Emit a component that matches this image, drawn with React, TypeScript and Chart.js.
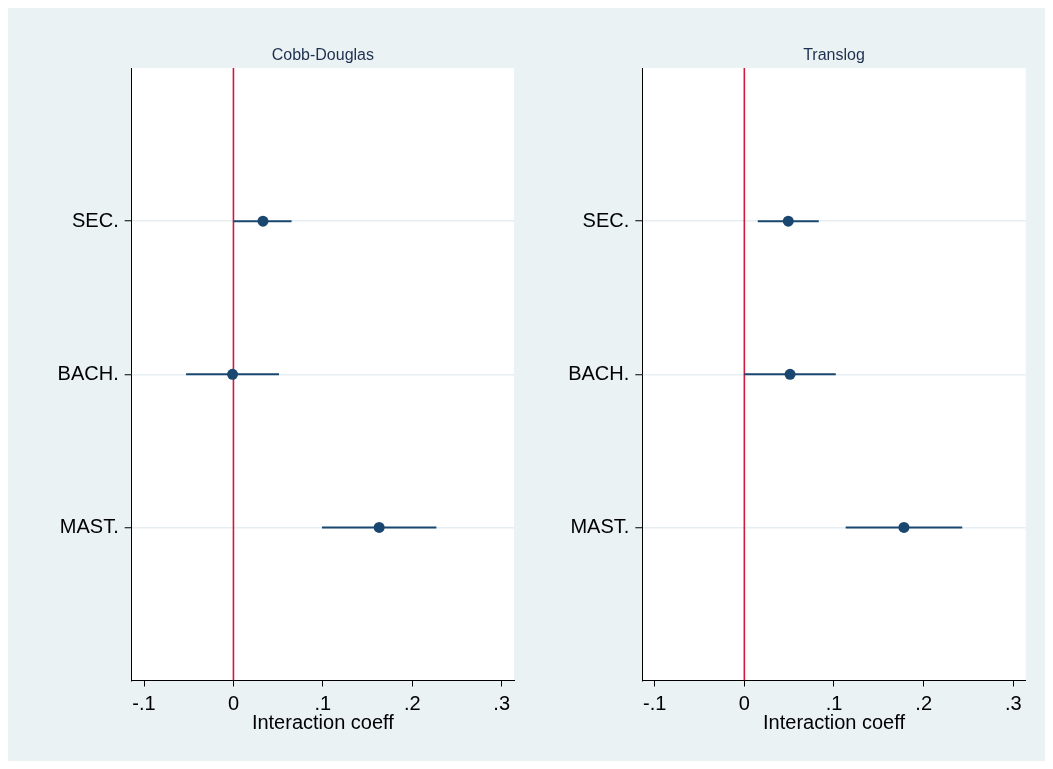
import { useEffect, useRef } from 'react';
import { Chart, registerables } from 'chart.js';

Chart.register(...registerables);

// ---- data ----
const categories = ['SEC.', 'BACH.', 'MAST.'];
const categoryPositions = [1, 2, 3];
const panelTitles = ['Cobb-Douglas', 'Translog'];

const cdCoef = [0.033, -0.001, 0.163];
const cdLow = [0.0, -0.053, 0.099];
const cdHigh = [0.065, 0.051, 0.227];

const tlCoef = [0.049, 0.051, 0.178];
const tlLow = [0.015, 0.0, 0.113];
const tlHigh = [0.083, 0.102, 0.243];

const xTickValues = [-0.1, 0, 0.1, 0.2, 0.3];
const xTickLabels = ['-.1', '0', '.1', '.2', '.3'];
const xAxisTitle = 'Interaction coeff';
const refLineX = 0;

// ---- styles ----
const NAVY = '#1a476f';
const RED = '#cf1a3d';
const BG = '#eaf2f3';
const GRID = '#e6eef2';
const TITLE = '#1e3050';
const FONT = "'Liberation Sans', Arial, Helvetica, sans-serif";

const X_MIN = -0.1138;
const X_MAX = 0.3138;

const plotBg = {
  id: 'plotBg',
  beforeDraw(chart: any) {
    const { ctx, chartArea } = chart;
    ctx.save();
    ctx.fillStyle = '#ffffff';
    ctx.fillRect(chartArea.left, chartArea.top, chartArea.right - chartArea.left, chartArea.bottom - chartArea.top);
    ctx.restore();
  },
};

type PanelProps = {
  title: string;
  coef: number[];
  low: number[];
  high: number[];
  left: number;
  width: number;
  axisWidth: number;
  padRight: number;
};

function Panel({ title, coef, low, high, left, width, axisWidth, padRight }: PanelProps) {
  const ref = useRef<HTMLCanvasElement | null>(null);
  useEffect(() => {
    if (!ref.current) return;
    const datasets: any[] = [
      {
        data: [
          { x: refLineX, y: 0 },
          { x: refLineX, y: 4 },
        ],
        showLine: true,
        borderColor: RED,
        borderWidth: 1.6,
        pointRadius: 0,
        order: 3,
      },
      ...categories.map((_, i) => ({
        data: [
          { x: low[i], y: categoryPositions[i] },
          { x: high[i], y: categoryPositions[i] },
        ],
        showLine: true,
        borderColor: NAVY,
        borderWidth: 2,
        pointRadius: 0,
        order: 2,
      })),
      {
        data: categories.map((_, i) => ({ x: coef[i], y: categoryPositions[i] })),
        backgroundColor: NAVY,
        borderColor: NAVY,
        borderWidth: 0,
        pointRadius: 5.5,
        order: 1,
      },
    ];
    const chart = new Chart(ref.current, {
      type: 'scatter',
      data: { datasets },
      plugins: [plotBg],
      options: {
        animation: false,
        responsive: false,
        events: [],
        layout: { padding: { left: 0, right: padRight, top: 38.4, bottom: 27.5 } },
        plugins: { legend: { display: false }, tooltip: { enabled: false }, title: { display: false } },
        scales: {
          x: {
            type: 'linear',
            position: 'bottom',
            min: X_MIN,
            max: X_MAX,
            afterBuildTicks: (s: any) => {
              s.ticks = xTickValues.map((v) => ({ value: v }));
            },
            ticks: {
              autoSkip: false,
              maxRotation: 0,
              padding: 8,
              color: '#000',
              font: { family: FONT, size: 20, lineHeight: 1 },
              callback: (_v: any, i: number) => xTickLabels[i],
            },
            grid: { drawOnChartArea: false, drawTicks: true, tickLength: 6, tickColor: '#000', tickWidth: 1 },
            border: { display: true, color: '#000', width: 1 },
            title: {
              display: true,
              text: xAxisTitle,
              color: '#000',
              padding: { top: -9, bottom: 0 },
              font: { family: FONT, size: 20, lineHeight: 1 },
            },
          },
          x2: {
            type: 'linear',
            position: 'top',
            min: X_MIN,
            max: X_MAX,
            ticks: { display: false },
            grid: { display: false, drawTicks: false },
            border: { display: false },
            title: {
              display: true,
              text: title,
              color: TITLE,
              padding: { top: 0, bottom: 2.5 },
              font: { family: FONT, size: 16, lineHeight: 1.2 },
            },
          },
          y: {
            type: 'linear',
            min: 0,
            max: 4,
            reverse: true,
            afterBuildTicks: (s: any) => {
              s.ticks = categoryPositions.map((v) => ({ value: v }));
            },
            afterFit: (s: any) => {
              s.width = axisWidth;
            },
            ticks: {
              autoSkip: false,
              padding: 6,
              color: '#000',
              font: { family: FONT, size: 20, lineHeight: 1 },
              callback: (_v: any, i: number) => categories[i],
            },
            grid: { color: GRID, lineWidth: 1.5, drawTicks: true, tickLength: 7, tickColor: '#000', tickWidth: 1 },
            border: { display: true, color: '#000', width: 1 },
          },
        },
      } as any,
    });
    return () => chart.destroy();
  }, []);
  return (
    <canvas
      ref={ref}
      width={width}
      height={753}
      style={{ position: 'absolute', left, top: 0, width, height: 753 }}
    />
  );
}

export default function App() {
  return (
    <div style={{ position: 'relative', width: 1037, height: 753, background: BG }}>
      <Panel title={panelTitles[0]} coef={cdCoef} low={cdLow} high={cdHigh} left={0} width={522} axisWidth={123.7} padRight={16} />
      <Panel title={panelTitles[1]} coef={tlCoef} low={tlLow} high={tlHigh} left={522} width={515} axisWidth={112.3} padRight={19.3} />
    </div>
  );
}
